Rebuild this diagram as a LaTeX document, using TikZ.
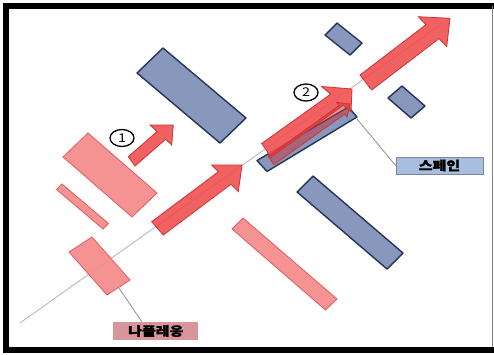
\documentclass[tikz,border=0pt]{standalone}
\usepackage{fontspec}
\usepackage{tikz}
\usetikzlibrary{calc, positioning, shapes.geometric}
\newfontfamily\hangul{Noto Sans CJK KR}[BoldFeatures={FakeBold=1.6}]
\definecolor{arrowred}{RGB}{240, 80, 80}
\definecolor{arrowedge}{RGB}{205, 50, 55}
\definecolor{padred}{RGB}{244, 136, 136}
\definecolor{padedge}{RGB}{226, 90, 96}
\definecolor{slateblue}{RGB}{136, 152, 188}
\definecolor{navyedge}{RGB}{38, 52, 88}
\definecolor{tagblue}{RGB}{168, 190, 222}
\definecolor{tagpink}{RGB}{216, 150, 155}
\newcommand{\wide}[1]{\scalebox{1.2}[1]{#1}}

\begin{document}
\begin{tikzpicture}[x=1pt, y=-1pt,
				bluebar/.style={fill=slateblue, draw=navyedge, line width=1.4pt, line join=round},
				redbar/.style={fill=padred, fill opacity=0.9, draw=padedge, line width=0.8pt},
				fatarr/.style={fill=arrowred, fill opacity=0.9, draw=arrowedge, line width=0.8pt},
				leader/.style={gray!80, line width=0.9pt},
				tag/.style={font=\hangul\bfseries\fontsize{12.5}{13}\selectfont, inner sep=0pt,
					minimum width=87pt, minimum height=17pt},
				num/.style={draw, ellipse, line width=1.3pt, minimum width=24pt, minimum height=17pt,
					inner sep=0pt, font=\hangul\fontsize{12}{12}\selectfont}]
				
				\useasboundingbox (0,0) rectangle (494,354);
				\fill[white] (0,0) rectangle (494,354);
				
				%--- Frame ---
				\draw[black, line width=6pt] (6.3,353) -- (6.3,5.5) -- (494,5.5);
				\draw[black, line width=6pt] (3.3,350) -- (494,350);
				\draw[gray, line width=1.5pt] (492.3,5.5) -- (492.3,347);
				
				%--- Axis of the march ---
				\draw[gray!55, line width=0.9pt] (20,323) -- (440,25);
				
				%--- Blue bars ---
				\draw[bluebar] (137,73) -- (163,48) -- (246,118) -- (220,143) -- cycle;
				\draw[bluebar] (325,35) -- (337,23) -- (362,43) -- (350,55) -- cycle;
				\draw[bluebar] (388,98) -- (402,86) -- (425,106) -- (411,118) -- cycle;
				\draw[bluebar] (297,192) -- (313,176) -- (403,253) -- (387,269) -- cycle;
				\draw[bluebar] (257,160.5) -- (348.5,107) -- (357,117) -- (267,171.5) -- cycle;
				
				%--- Red bars ---
				\draw[redbar] (63,157) -- (88,133) -- (157,193) -- (132,217) -- cycle;
				\draw[redbar] (56.5,189.5) -- (62,184) -- (108.5,223.5) -- (103,229) -- cycle;
				\draw[redbar] (69,252) -- (92,237) -- (130,280) -- (107,295) -- cycle;
				\draw[redbar] (232,229) -- (243,218) -- (337,299) -- (325.5,310) -- cycle;
				
				%--- Arrows ---
				\draw[fatarr] (128.3,156.7) -- (157.1,131.5) -- (150,125) -- (173.3,125)
				-- (171.7,145) -- (165.6,139.3) -- (135,166) -- cycle;
				\draw[fatarr] (151.7,221.7) -- (218.4,171.7) -- (211.7,165) -- (242,165)
				-- (238.3,191.7) -- (230.9,184.3) -- (163.3,235) -- cycle;
				\draw[fatarr] (261.7,143.5) -- (330.6,94.2) -- (321.7,86.5) -- (352,89)
				-- (351,112) -- (343.3,105.3) -- (271,157) -- cycle;
				\draw[fatarr, fill opacity=0.5, fill=arrowedge] (268.1,156.4) -- (339,105.7) -- (336.7,102.5) -- (350,104)
				-- (347.1,117.1) -- (344.8,113.9) -- (273.9,164.6) -- cycle;
				\draw[fatarr] (360,75) -- (425.9,24.7) -- (418.3,16.7) -- (450,18.3)
				-- (446.7,46.7) -- (439,38.6) -- (371.7,90) -- cycle;
				
				%--- Tags and leaders ---
				\node[tag, fill=tagblue, draw=navyedge!60, line width=0.8pt] (spain) at (439.5,165.5) {\wide{스페인}};
				\node[tag, fill=tagpink, minimum width=85pt, minimum height=18pt] (napoleon) at (155.8,331) {\wide{나폴레옹}};
				\coordinate (spaincorner) at (357,119);
				\coordinate (napcorner) at (119,288);
				\draw[leader] (spaincorner) -- (spain.west);
				\draw[leader] (napcorner) -- ([xshift=-14pt]napoleon.north);
				
				%--- Step numbers ---
				\node[num] (one) at (122,138) {\wide{1}};
				\node[num] (two) at (306,92.5) {\wide{2}};
			\end{tikzpicture}
\end{document}
